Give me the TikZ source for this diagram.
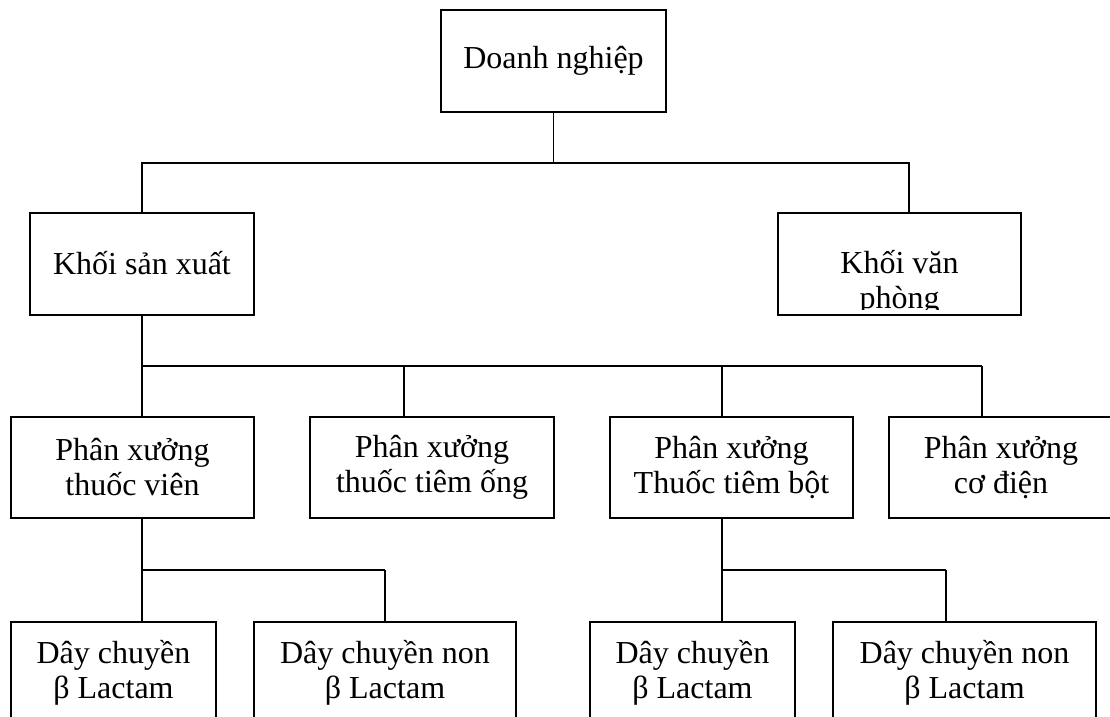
\documentclass[tikz,border=0pt]{standalone}
\usepackage{fontspec}
\setmainfont{Liberation Serif}
\usetikzlibrary{calc}
\begin{document}
\begin{tikzpicture}[x=0.5pt,y=-0.5pt,
  box/.style={draw, line width=0.95pt, rectangle, inner sep=0pt, align=center,
    font=\fontsize{16pt}{17.5pt}\selectfont},
  conn/.style={line width=0.65pt}]
\useasboundingbox (0,0) rectangle (1110,717);

% level 1
\node[box, minimum width=112.5pt, minimum height=51pt] (dn) at (553.5,61) {Doanh nghiệp};

% level 2
\node[box, minimum width=112pt, minimum height=51pt] (sx) at (142,264) {\raisebox{1.5pt}{Khối sản xuất}};
\node[box, minimum width=121.5pt, minimum height=51pt] (vp) at (899.5,264) {};
\begin{scope}
  \clip (780,215) rectangle (1019,309.5);
  \node[align=center, inner sep=0pt, font=\fontsize{16pt}{17.5pt}\selectfont] (vptext) at (899.5,283) {Khối văn\\phòng};
\end{scope}

% level 3
\node[box, minimum width=121.5pt, minimum height=50.5pt] (px1) at (132.5,467.5) {Phân xưởng\\thuốc viên};
\node[box, minimum width=122pt, minimum height=50.5pt] (px2) at (432,467.5) {Phân xưởng\\thuốc tiêm ống};
\node[box, minimum width=121.5pt, minimum height=50.5pt] (px3) at (731.5,467.5) {Phân xưởng\\Thuốc tiêm bột};
\node[box, minimum width=112pt, minimum height=50.5pt] (px4) at (1001,467.5) {Phân xưởng\\cơ điện};

% level 4
\node[box, minimum width=102.5pt, minimum height=51pt] (dA) at (113.5,673) {Dây chuyền\\β Lactam};
\node[box, minimum width=131pt, minimum height=51pt] (dB) at (385,673) {Dây chuyền non\\β Lactam};
\node[box, minimum width=102.5pt, minimum height=51pt] (dC) at (692.5,673) {Dây chuyền\\β Lactam};
\node[box, minimum width=131.5pt, minimum height=51pt] (dD) at (964.5,673) {Dây chuyền non\\β Lactam};

% junction points
\coordinate (j1) at (553.5,163);
\coordinate (j2a) at (142,366);
\coordinate (j2b) at (404,366);
\coordinate (j2c) at (722,366);
\coordinate (j2d) at (982,366);
\coordinate (j3a) at (142,570);
\coordinate (j3b) at (385,570);
\coordinate (j4a) at (722,570);
\coordinate (j4b) at (946,570);

% connectors
\draw[conn] (dn.south) -- (j1);
\draw[conn] (sx.north) |- (j1) -| ($(vp.north)+(9.5,0)$);

\draw[conn] (sx.south) -- (j2a) -- (j2d);
\draw[conn] (j2a) -- (j2a |- px1.north);
\draw[conn] (j2b) -- (j2b |- px2.north);
\draw[conn] (j2c) -- (j2c |- px3.north);
\draw[conn] (j2d) -- (j2d |- px4.north);

\draw[conn] (j3a |- px1.south) -- (j3a) -- (j3b);
\draw[conn] (j3a) -- (j3a |- dA.north);
\draw[conn] (j3b) -- (dB.north);

\draw[conn] (j4a |- px3.south) -- (j4a) -- (j4b);
\draw[conn] (j4a) -- (j4a |- dC.north);
\draw[conn] (j4b) -- (j4b |- dD.north);
\end{tikzpicture}
\end{document}
